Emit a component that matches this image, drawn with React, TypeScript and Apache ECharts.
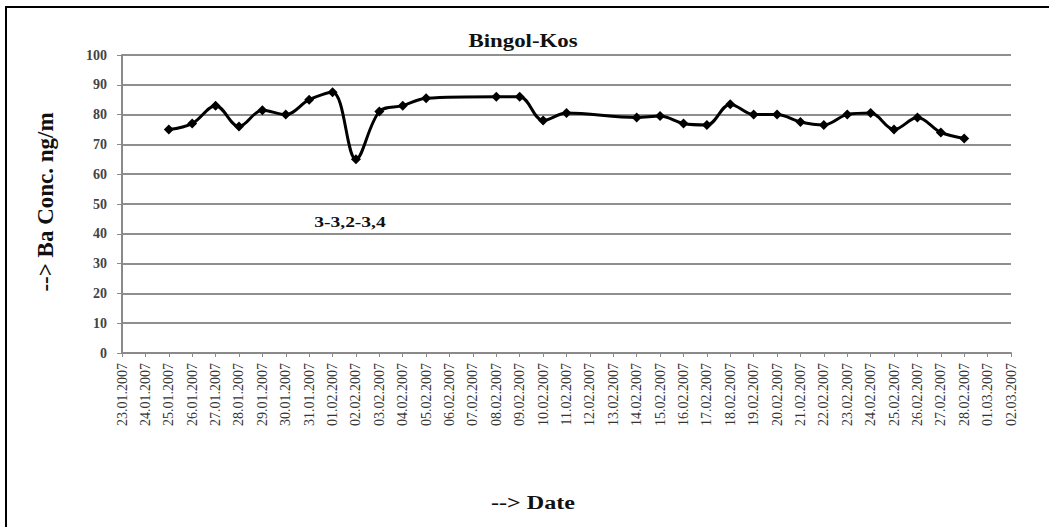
import React, { useEffect, useRef } from "react";
import * as echarts from "echarts";

const dates: string[] = [
  "23.01.2007", "24.01.2007", "25.01.2007", "26.01.2007", "27.01.2007", "28.01.2007",
  "29.01.2007", "30.01.2007", "31.01.2007", "01.02.2007", "02.02.2007", "03.02.2007",
  "04.02.2007", "05.02.2007", "06.02.2007", "07.02.2007", "08.02.2007", "09.02.2007",
  "10.02.2007", "11.02.2007", "12.02.2007", "13.02.2007", "14.02.2007", "15.02.2007",
  "16.02.2007", "17.02.2007", "18.02.2007", "19.02.2007", "20.02.2007", "21.02.2007",
  "22.02.2007", "23.02.2007", "24.02.2007", "25.02.2007", "26.02.2007", "27.02.2007",
  "28.02.2007", "01.03.2007", "02.03.2007",
];

const baConc: (number | null)[] = [
  null, null, 75, 77, 83, 76, 81.5, 80, 85, 87.5, 65, 81, 83, 85.5, null, null, 86, 86,
  78, 80.5, null, null, 79, 79.5, 77, 76.5, 83.5, 80, 80, 77.5, 76.5, 80, 80.5, 75, 79,
  74, 72, null, null,
];

const titleText = "Bingol-Kos";
const yName = "--> Ba Conc. ng/m";
const xName = "--> Date";
const noteText = "3-3,2-3,4";

const serif = "'Liberation Serif', 'DejaVu Serif', serif";

export default function App() {
  const ref = useRef<HTMLDivElement>(null);
  useEffect(() => {
    if (!ref.current) return;
    const chart = echarts.init(ref.current, null, { renderer: "svg" });
    chart.setOption({
      animation: false,
      backgroundColor: "#ffffff",
      grid: { left: 122, right: 38, top: 55, bottom: 174 },
      xAxis: {
        type: "category",
        data: dates,
        boundaryGap: false,
        axisLine: { lineStyle: { color: "#8a8a8a", width: 2 } },
        axisTick: { show: true, length: 4, lineStyle: { color: "#8a8a8a" } },
        axisLabel: {
          rotate: 90,
          interval: 0,
          margin: 10,
          fontFamily: serif,
          fontSize: 14,
          color: "#333",
        },
        splitLine: { show: false },
      },
      yAxis: {
        type: "value",
        min: 0,
        max: 100,
        interval: 10,
        axisLine: { show: true, lineStyle: { color: "#8a8a8a", width: 2 } },
        axisTick: { show: true, length: 5, lineStyle: { color: "#8a8a8a" } },
        axisLabel: { fontFamily: serif, fontSize: 14, fontWeight: "bold", color: "#444", margin: 15 },
        splitLine: { show: true, lineStyle: { color: "#8f8f8f", width: 2 } },
      },
      series: [
        {
          type: "line",
          data: baConc,
          connectNulls: true,
          smooth: 0.35,
          symbol: "diamond",
          symbolSize: 10,
          itemStyle: { color: "#000" },
          lineStyle: { color: "#000", width: 3 },
        },
      ],
      graphic: [
        {
          type: "rect",
          shape: { x: 6, y: 7, width: 1100, height: 600 },
          style: { fill: "none", stroke: "#000", lineWidth: 2 },
          silent: true,
        },
        {
          type: "text",
          x: 523,
          y: 41,
          scaleX: 1.27,
          style: {
            text: titleText,
            fontFamily: serif,
            fontSize: 18,
            fontWeight: "bold",
            fill: "#111",
            align: "center",
            verticalAlign: "middle",
          },
        },
        {
          type: "text",
          x: 45,
          y: 202,
          rotation: Math.PI / 2,
          style: {
            text: yName,
            fontFamily: serif,
            fontSize: 23,
            fontWeight: "bold",
            fill: "#111",
            align: "center",
            verticalAlign: "middle",
          },
        },
        {
          type: "text",
          x: 533,
          y: 503,
          scaleX: 1.27,
          style: {
            text: xName,
            fontFamily: serif,
            fontSize: 19,
            fontWeight: "bold",
            fill: "#111",
            align: "center",
            verticalAlign: "middle",
          },
        },
        {
          type: "text",
          x: 350,
          y: 222,
          scaleX: 1.3,
          style: {
            text: noteText,
            fontFamily: serif,
            fontSize: 15,
            fontWeight: "bold",
            fill: "#111",
            align: "center",
            verticalAlign: "middle",
          },
        },
      ],
    });
    return () => chart.dispose();
  }, []);
  return (
    <div
      ref={ref}
      style={{ position: "absolute", left: 0, top: 0, width: 1049, height: 527, background: "#fff" }}
    />
  );
}
